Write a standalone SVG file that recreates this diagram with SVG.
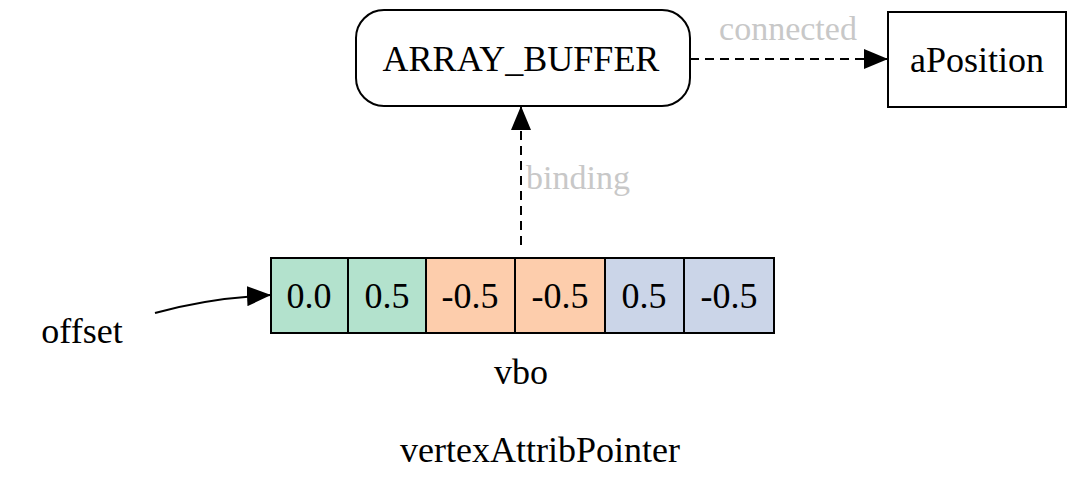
<svg xmlns="http://www.w3.org/2000/svg" width="1080" height="496" viewBox="0 0 1080 496">
<style>
text{font-family:"Liberation Serif",serif;font-size:36px;text-anchor:middle;fill:#000}
.lbl{fill:#c8c8c8;font-size:34px}
.n{stroke:#000;stroke-width:2}
.e{stroke:#000;stroke-width:2;fill:none}
</style>
<defs>
<marker id="b" viewBox="0 0 24 20" refX="24" refY="10" markerWidth="24" markerHeight="20" orient="auto" markerUnits="userSpaceOnUse"><path d="M0,0L24,10L0,20z"/></marker></defs>
<rect width="1080" height="496" fill="#fff"/>
<g id="ARRAY_BUFFER"><rect class="n" x="356" y="10" width="334" height="96" rx="28" fill="#fff"/><text x="521" y="71">ARRAY_BUFFER</text></g>
<g id="aPosition"><rect class="n" x="888" y="12" width="178" height="95" fill="#fff"/><text x="977" y="72">aPosition</text></g>
<g id="vbo">
<rect class="n" x="271" y="258" width="77" height="75" fill="#b3e2cd"/><text x="309" y="308">0.0</text>
<rect class="n" x="348" y="258" width="78" height="75" fill="#b3e2cd"/><text x="387" y="308">0.5</text>
<rect class="n" x="426" y="258" width="89" height="75" fill="#fdcdac"/><text x="470" y="308">-0.5</text>
<rect class="n" x="515" y="258" width="90" height="75" fill="#fdcdac"/><text x="560" y="308">-0.5</text>
<rect class="n" x="605" y="258" width="79" height="75" fill="#cbd5e8"/><text x="644" y="308">0.5</text>
<rect class="n" x="684" y="258" width="90" height="75" fill="#cbd5e8"/><text x="729" y="308">-0.5</text>
<text x="521" y="384">vbo</text></g>
<g id="offset"><text x="82" y="343">offset</text></g>
<g id="connectors">
<path class="e" d="M690,59H888" stroke-dasharray="9,6" marker-end="url(#b)"/>
<text class="lbl" x="788" y="40">connected</text>
<path class="e" d="M521,245V106" stroke-dasharray="9,6" marker-end="url(#b)"/>
<text class="lbl" x="578" y="189">binding</text>
<path class="e" d="M155,313C190,303 230,297 271,295" marker-end="url(#b)"/>
</g>
<text x="540" y="462">vertexAttribPointer</text>
</svg>
